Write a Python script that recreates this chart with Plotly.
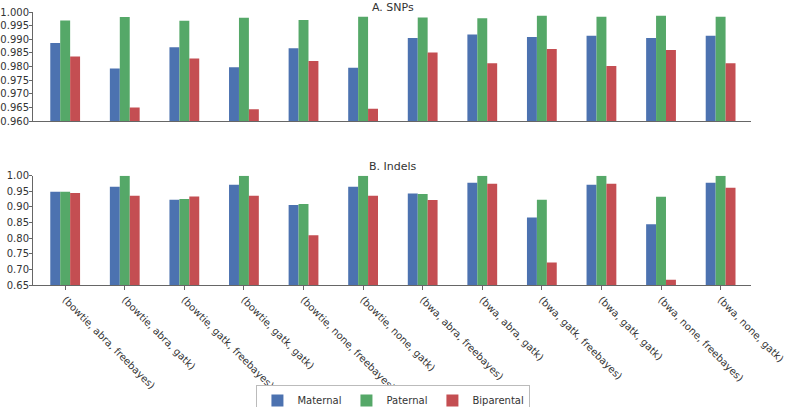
import plotly.graph_objects as go
from plotly.subplots import make_subplots

categories = [
    "(bowtie, abra, freebayes)", "(bowtie, abra, gatk)", "(bowtie, gatk, freebayes)",
    "(bowtie, gatk, gatk)", "(bowtie, none, freebayes)", "(bowtie, none, gatk)",
    "(bwa, abra, freebayes)", "(bwa, abra, gatk)", "(bwa, gatk, freebayes)",
    "(bwa, gatk, gatk)", "(bwa, none, freebayes)", "(bwa, none, gatk)",
]
series_names = ["Maternal", "Paternal", "Biparental"]

snp_maternal = [0.9886, 0.9793, 0.9871, 0.9797, 0.9867, 0.9795, 0.9905, 0.9917, 0.9908, 0.9913, 0.9905, 0.9913]
snp_paternal = [0.9969, 0.9982, 0.9968, 0.9979, 0.9971, 0.9983, 0.9980, 0.9977, 0.9986, 0.9983, 0.9986, 0.9983]
snp_biparental = [0.9837, 0.9650, 0.9829, 0.9643, 0.9820, 0.9645, 0.9851, 0.9812, 0.9864, 0.9802, 0.9861, 0.9812]

indel_maternal = [0.9486, 0.9647, 0.9229, 0.9711, 0.9058, 0.9647, 0.9433, 0.9775, 0.8662, 0.9711, 0.8448, 0.9775]
indel_paternal = [0.9486, 1.0000, 0.9251, 1.0000, 0.9090, 1.0000, 0.9411, 1.0000, 0.9229, 1.0000, 0.9326, 1.0000]
indel_biparental = [0.9443, 0.9358, 0.9336, 0.9358, 0.8095, 0.9358, 0.9219, 0.9743, 0.7217, 0.9743, 0.6672, 0.9615]

snp_ticks = [0.960, 0.965, 0.970, 0.975, 0.980, 0.985, 0.990, 0.995, 1.000]
indel_ticks = [0.65, 0.70, 0.75, 0.80, 0.85, 0.90, 0.95, 1.00]

colors = ["#4C72B0", "#55A868", "#C44E52"]
FONT = "DejaVu Sans"

fig = make_subplots(rows=2, cols=1, shared_xaxes=False, vertical_spacing=0.2)

snp_data = [snp_maternal, snp_paternal, snp_biparental]
indel_data = [indel_maternal, indel_paternal, indel_biparental]
for i, name in enumerate(series_names):
    fig.add_trace(go.Bar(x=categories, y=snp_data[i], name=name, marker_color=colors[i],
                         marker_line_width=0, showlegend=True), row=1, col=1)
for i, name in enumerate(series_names):
    fig.add_trace(go.Bar(x=categories, y=indel_data[i], name=name, marker_color=colors[i],
                         marker_line_width=0, showlegend=False), row=2, col=1)

axis_common = dict(showline=True, linecolor="#666666", linewidth=1, showgrid=False,
                   zeroline=False, mirror=False, automargin=False)

fig.update_xaxes(**axis_common, range=[-0.54, 11.51], type="category")
fig.update_xaxes(row=1, col=1, showticklabels=False, ticks="", domain=[0, 1])
fig.update_xaxes(row=2, col=1, ticks="outside", ticklen=4, tickcolor="#666666",
                 tickangle=45, tickfont=dict(family=FONT, size=10, color="#333333"))

fig.update_yaxes(**axis_common, ticks="outside", ticklen=3, tickcolor="#666666",
                 ticklabelstandoff=-2,
                 tickfont=dict(family=FONT, size=10, color="#333333"))
fig.update_yaxes(row=1, col=1, range=[0.96, 1.0], tickvals=snp_ticks, tickformat=".3f",
                 domain=[0.6007, 1.0])
fig.update_yaxes(row=2, col=1, range=[0.65, 1.0], tickvals=indel_ticks, tickformat=".2f",
                 domain=[0.0, 0.4004])

fig.update_layout(
    width=787, height=407,
    margin=dict(l=33, r=36, t=12, b=122, autoexpand=False),
    paper_bgcolor="white", plot_bgcolor="white",
    barmode="group", bargap=0.5, bargroupgap=0,
    font=dict(family=FONT, size=10, color="#333333"),
    legend=dict(orientation="h", x=0.502, xanchor="center", y=-0.366, yanchor="top",
                bordercolor="#bbbbbb", borderwidth=1, bgcolor="white",
                font=dict(family=FONT, size=10, color="#333333"),
                itemwidth=30, tracegroupgap=0),
    annotations=[
        dict(text="A. SNPs", x=0.502, y=1.0, xref="paper", yref="paper", xanchor="center",
             yanchor="top", showarrow=False, yshift=12, borderpad=0,
             font=dict(family=FONT, size=11, color="#333333")),
        dict(text="B. Indels", x=0.502, y=0.4004, xref="paper", yref="paper", xanchor="center",
             yanchor="bottom", showarrow=False, yshift=1,
             font=dict(family=FONT, size=11, color="#333333")),
    ],
)

fig.write_html("out.html", config={"displayModeBar": False},
               post_script="document.body.style.margin='0';document.body.style.overflow='hidden';")
